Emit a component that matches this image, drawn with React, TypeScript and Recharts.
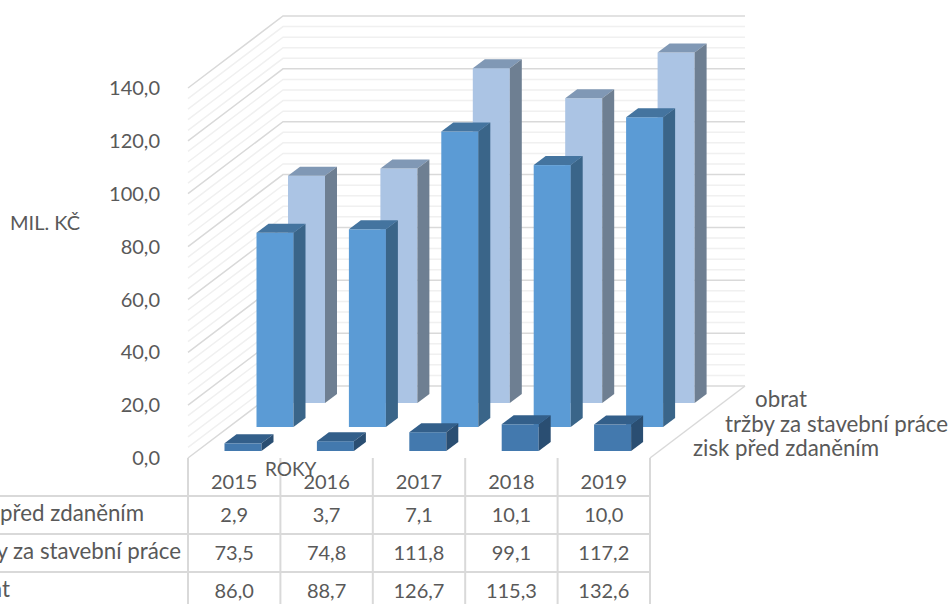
import { BarChart, Bar, XAxis, YAxis } from "recharts";

const years = ["2015", "2016", "2017", "2018", "2019"];
const zisk = [2.9, 3.7, 7.1, 10.1, 10.0];
const trzby = [73.5, 74.8, 111.8, 99.1, 117.2];
const obrat = [86.0, 88.7, 126.7, 115.3, 132.6];
const yTicks = [0, 20, 40, 60, 80, 100, 120, 140];
const minorTicks = [4, 8, 12, 16, 24, 28, 32, 36, 44, 48, 52, 56, 64, 68, 72, 76, 84, 88, 92, 96, 104, 108, 112, 116, 124, 128, 132, 136];

const data = years.map((year, i) => ({ year, zisk: zisk[i], trzby: trzby[i], obrat: obrat[i] }));

const FONT = "Lato, Carlito, sans-serif";
const TEXT = "#595959";
const GRID = "#D9D9D9";
const GRID_MINOR = "#F0F0F0";

// plot box = front plane of the 3D chart
const LEFT = 188;
const RIGHT = 650;
const TOP = 88;
const BOTTOM = 458;
// how far the back wall sits from the front plane
const WALL_DX = 95;
const WALL_DY = -72;
const BAR_W = 37;

const yPos = (v: number) => BOTTOM - ((BOTTOM - TOP) * v) / 140;
const fmt = (v: number) => v.toFixed(1).replace(".", ",");

function Walls() {
  const line = (v: number, color: string) => {
    const y = yPos(v);
    return (
      <polyline
        key={v}
        points={`${LEFT},${y} ${LEFT + WALL_DX},${y + WALL_DY} ${RIGHT + WALL_DX},${y + WALL_DY}`}
        fill="none"
        stroke={color}
        strokeWidth={1.5}
      />
    );
  };
  return (
    <g>
      {minorTicks.map((v) => line(v, GRID_MINOR))}
      {yTicks.map((v) => line(v, GRID))}
      <line x1={RIGHT} y1={BOTTOM} x2={RIGHT + WALL_DX} y2={BOTTOM + WALL_DY} stroke={GRID} strokeWidth={1.5} />
    </g>
  );
}

function DataTable() {
  const rows = [
    { name: "zisk před zdaněním", values: zisk, y: 514 },
    { name: "tržby za stavební práce", values: trzby, y: 552 },
    { name: "obrat", values: obrat, y: 590 },
  ];
  const colW = (RIGHT - LEFT) / years.length;
  const textProps = { fontFamily: FONT, fontSize: 20, fill: TEXT, dominantBaseline: "central" as const };
  const nameProps = { ...textProps, fontSize: 22.3 };
  return (
    <g>
      {years.map((_, i) => (
        <line key={i} x1={LEFT + colW * i} y1={BOTTOM} x2={LEFT + colW * i} y2={604} stroke={GRID} strokeWidth={2} />
      ))}
      <line x1={RIGHT} y1={BOTTOM} x2={RIGHT} y2={604} stroke={GRID} strokeWidth={2} />
      {[496, 534, 572].map((y) => (
        <line key={y} x1={0} y1={y} x2={RIGHT} y2={y} stroke={GRID} strokeWidth={2} />
      ))}
      {rows.map((row) => (
        <g key={row.name}>
          <text x={-42} y={row.y - 1.5} {...nameProps}>
            {row.name}
          </text>
          {row.values.map((v, i) => (
            <text key={i} x={LEFT + colW * (i + 0.5)} y={row.y} textAnchor="middle" {...textProps}>
              {fmt(v)}
            </text>
          ))}
        </g>
      ))}
      <text x={10} y={222} {...textProps}>MIL. KČ</text>
      <text x={265} y={468} {...textProps} fontSize={19}>ROKY</text>
      <text x={755} y={398} {...nameProps}>obrat</text>
      <text x={725} y={423} {...nameProps}>tržby za stavební práce</text>
      <text x={693} y={447} {...nameProps}>zisk před zdaněním</text>
    </g>
  );
}

// box with front, top and side face, moved to its row on the floor
function box3d(dx: number, dy: number, front: string, top: string, side: string) {
  return (props: any) => {
    const { x, y, width, height } = props;
    const l = x + dx;
    const r = l + width;
    const t = y + dy;
    const b = t + height;
    const ox = 12;
    const oy = -9;
    return (
      <g>
        <rect x={l} y={t} width={width} height={height} fill={front} />
        <polygon points={`${l},${t} ${r},${t} ${r + ox},${t + oy} ${l + ox},${t + oy}`} fill={top} />
        <polygon points={`${r},${t} ${r + ox},${t + oy} ${r + ox},${b + oy} ${r},${b}`} fill={side} />
      </g>
    );
  };
}

export default function App() {
  return (
    <div style={{ position: "absolute", left: 0, top: 0, width: 952, height: 604, overflow: "hidden" }}>
      <BarChart
        width={952}
        height={604}
        data={data}
        barSize={BAR_W}
        barGap={-BAR_W}
        margin={{ top: TOP, right: 952 - RIGHT, bottom: 0, left: 0 }}
      >
        <Walls />
        <XAxis
          dataKey="year"
          height={604 - BOTTOM}
          axisLine={false}
          tickLine={false}
          tickSize={0}
          tickMargin={17}
          tick={{ fontFamily: FONT, fontSize: 20, fill: TEXT }}
        />
        <YAxis
          width={LEFT}
          domain={[0, 140]}
          ticks={yTicks}
          interval={0}
          axisLine={false}
          tickLine={false}
          tickSize={0}
          tickMargin={28}
          tickFormatter={fmt}
          tick={{ fontFamily: FONT, fontSize: 20, fill: TEXT }}
        />
        <Bar dataKey="obrat" isAnimationActive={false} shape={box3d(72, -55, "#ABC4E4", "#8098B5", "#6E7F92")} />
        <Bar dataKey="trzby" isAnimationActive={false} shape={box3d(40.5, -31, "#5B9BD5", "#44749F", "#3A6589")} />
        <Bar dataKey="zisk" isAnimationActive={false} shape={box3d(8.5, -7, "#4379AE", "#335F8A", "#2A4E72")} />
        <DataTable />
      </BarChart>
    </div>
  );
}
